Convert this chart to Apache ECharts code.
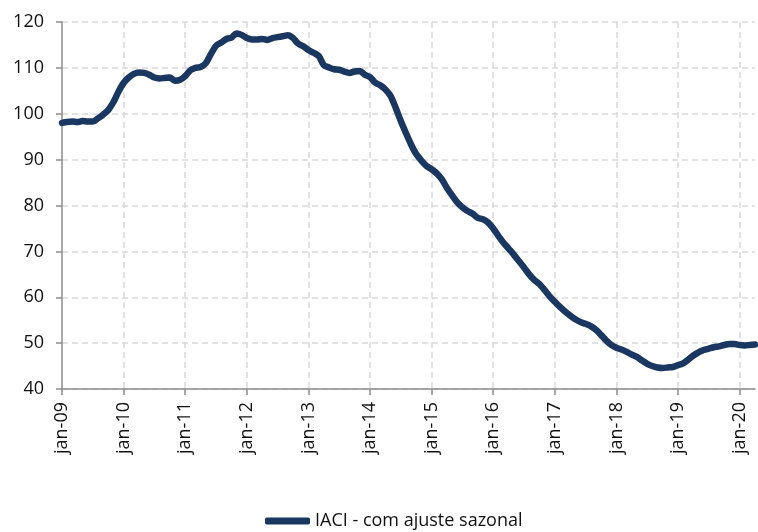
<!DOCTYPE html>
<html>
<head>
<meta charset="utf-8">
<script src="https://cdn.jsdelivr.net/npm/echarts@6/dist/echarts.min.js"></script>
<style>html,body{margin:0;padding:0;background:#fff}#c{width:758px;height:532px}</style>
</head>
<body>
<div id="c"></div>
<script>
var monthNames = ['jan','fev','mar','abr','mai','jun','jul','ago','set','out','nov','dez'];
var years = ['09','10','11','12','13','14','15','16','17','18','19','20'];
var lastYearMonths = 4;
var seriesName = 'IACI - com ajuste sazonal';

var v2009 = [98.0, 98.2, 98.3, 98.2, 98.4, 98.3, 98.3, 99.0, 99.8, 100.8, 102.5, 104.8];
var v2010 = [106.7, 107.9, 108.7, 109.0, 108.9, 108.5, 107.9, 107.7, 107.8, 107.9, 107.2, 107.4];
var v2011 = [108.2, 109.5, 110.0, 110.2, 111.0, 113.0, 114.8, 115.5, 116.3, 116.6, 117.5, 117.2];
var v2012 = [116.5, 116.2, 116.2, 116.3, 116.1, 116.5, 116.7, 116.9, 117.1, 116.5, 115.3, 114.7];
var v2013 = [113.9, 113.3, 112.6, 110.6, 110.1, 109.7, 109.6, 109.2, 108.9, 109.2, 109.3, 108.5];
var v2014 = [108.0, 106.8, 106.2, 105.3, 103.9, 101.3, 98.4, 95.8, 93.3, 91.2, 89.8, 88.6];
var v2015 = [87.9, 87.0, 85.7, 83.8, 82.2, 80.7, 79.6, 78.8, 78.2, 77.3, 77.0, 76.3];
var v2016 = [75.0, 73.4, 71.9, 70.6, 69.3, 67.9, 66.5, 65.0, 63.8, 62.9, 61.6, 60.2];
var v2017 = [59.0, 57.9, 56.9, 56.0, 55.2, 54.6, 54.2, 53.7, 52.9, 51.8, 50.6, 49.6];
var v2018 = [49.0, 48.6, 48.1, 47.5, 47.0, 46.2, 45.5, 45.0, 44.7, 44.6, 44.7, 44.8];
var v2019 = [45.2, 45.6, 46.4, 47.3, 48.0, 48.5, 48.8, 49.1, 49.3, 49.6, 49.8, 49.8];
var v2020 = [49.6, 49.5, 49.6, 49.7];

var values = [].concat(v2009, v2010, v2011, v2012, v2013, v2014, v2015, v2016, v2017, v2018, v2019, v2020);

var categories = [];
years.forEach(function (y, yi) {
  var n = (yi === years.length - 1) ? lastYearMonths : 12;
  for (var m = 0; m < n; m++) categories.push(monthNames[m] + '-' + y);
});

var yMin = 40, yMax = 120, yStep = 10;
var isJan = function (idx) { return idx % 12 === 0; };
var font = '"Open Sans", "Noto Sans", sans-serif';

var chart = echarts.init(document.getElementById('c'), null, { renderer: 'canvas' });
chart.setOption({
  animation: false,
  backgroundColor: '#ffffff',
  grid: { left: 62, right: 3, top: 22, bottom: 143, containLabel: false },
  xAxis: {
    type: 'category',
    data: categories,
    boundaryGap: false,
    axisLine: { show: true, lineStyle: { color: '#8c8c8c', width: 1.5 } },
    axisTick: { show: true, interval: function (i) { return isJan(i); }, length: 6, lineStyle: { color: '#8c8c8c', width: 1.5 } },
    axisLabel: {
      interval: function (i) { return isJan(i); },
      rotate: 90, margin: 13,
      fontFamily: font, fontSize: 18, color: '#111111'
    },
    splitLine: {
      show: true,
      interval: function (i) { return isJan(i) && i !== 0; },
      lineStyle: { color: '#d9d9d9', width: 1.5, type: [6, 4] }
    }
  },
  yAxis: {
    type: 'value',
    min: yMin, max: yMax, interval: yStep,
    axisLine: { show: true, lineStyle: { color: '#8c8c8c', width: 1.5 } },
    axisTick: { show: true, length: 6, lineStyle: { color: '#8c8c8c', width: 1.5 } },
    axisLabel: { margin: 18, fontFamily: font, fontSize: 18, color: '#111111' },
    splitLine: { show: true, lineStyle: { color: '#d9d9d9', width: 1.5, type: [6, 4] } }
  },
  legend: {
    left: 260, top: 507,
    icon: 'roundRect',
    itemWidth: 45, itemHeight: 7, itemGap: 4,
    textStyle: { fontFamily: font, fontSize: 18, color: '#111111' },
    data: [seriesName]
  },
  series: [{
    name: seriesName,
    type: 'line',
    data: values,
    showSymbol: false,
    smooth: 0.3,
    lineStyle: { color: '#1a3761', width: 6.5, cap: 'round', join: 'round' },
    itemStyle: { color: '#1a3761' }
  }]
});
</script>
</body>
</html>
